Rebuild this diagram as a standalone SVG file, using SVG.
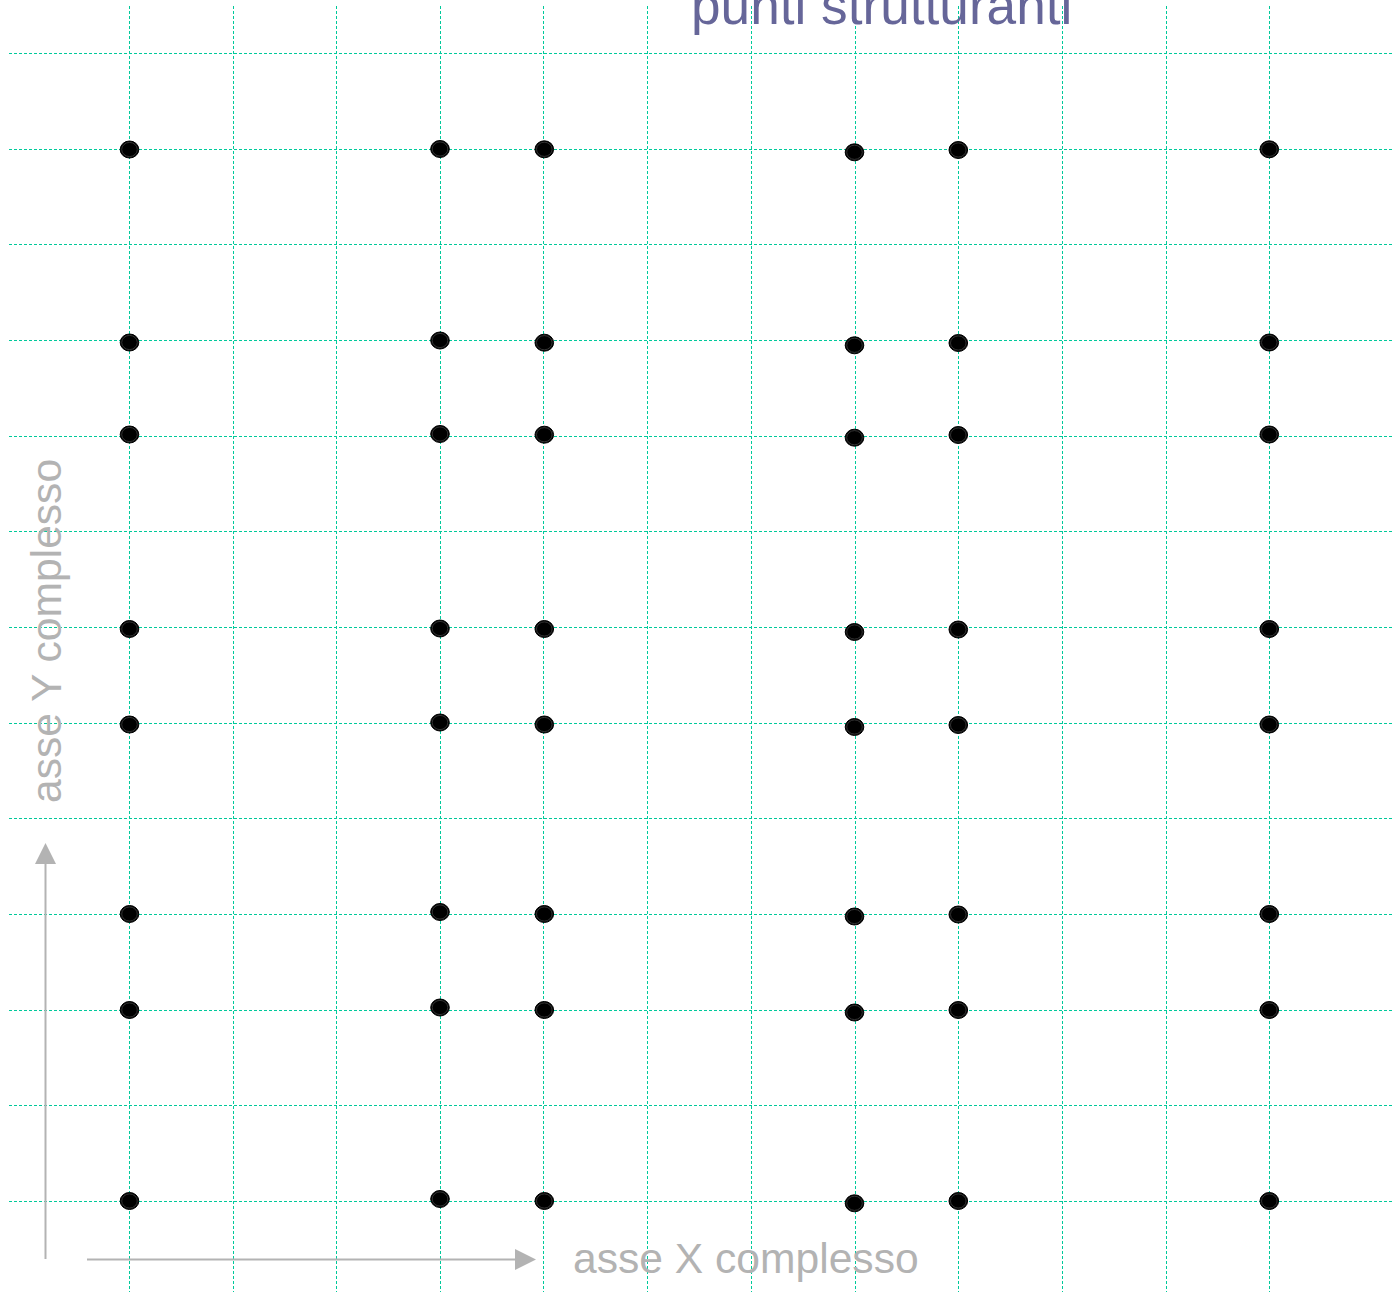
<svg xmlns="http://www.w3.org/2000/svg" xmlns:xlink="http://www.w3.org/1999/xlink" width="1392" height="1292" viewBox="0 0 1392 1292">
<style>
.grid line{stroke:#00C99A;stroke-width:1;stroke-dasharray:3 2;fill:none}
.axis{stroke:#B3B3B3;stroke-width:2;fill:none}
.ahead{fill:#B3B3B3}
.lbl{font-family:"Liberation Sans",Arial,sans-serif;font-size:42.6px;fill:#B3B3B3}
.title{font-family:"Liberation Sans",Arial,sans-serif;font-size:53.2px;fill:#666699}
</style>
<defs>
<g id="dot">
<ellipse cx="0" cy="0" rx="9.3" ry="8.5" fill="#000" stroke="#000" stroke-width="1"/>
<ellipse cx="0" cy="0" rx="7.8" ry="7.1" fill="none" stroke="#4a4a4a" stroke-width="0.7"/>
</g>
</defs>
<rect width="1392" height="1292" fill="#fff"/>
<g id="grid" class="grid">
<line x1="129.5" y1="6" x2="129.5" y2="1292"/>
<line x1="233.5" y1="6" x2="233.5" y2="1292"/>
<line x1="336.5" y1="6" x2="336.5" y2="1292"/>
<line x1="440.5" y1="6" x2="440.5" y2="1292"/>
<line x1="543.5" y1="6" x2="543.5" y2="1292"/>
<line x1="647.5" y1="6" x2="647.5" y2="1292"/>
<line x1="751.5" y1="6" x2="751.5" y2="1292"/>
<line x1="855.5" y1="6" x2="855.5" y2="1292"/>
<line x1="958.5" y1="6" x2="958.5" y2="1292"/>
<line x1="1062.5" y1="6" x2="1062.5" y2="1292"/>
<line x1="1166.5" y1="6" x2="1166.5" y2="1292"/>
<line x1="1269.5" y1="6" x2="1269.5" y2="1292"/>
<line x1="9" y1="53.5" x2="1392" y2="53.5"/>
<line x1="9" y1="149.5" x2="1392" y2="149.5"/>
<line x1="9" y1="244.5" x2="1392" y2="244.5"/>
<line x1="9" y1="340.5" x2="1392" y2="340.5"/>
<line x1="9" y1="436.5" x2="1392" y2="436.5"/>
<line x1="9" y1="531.5" x2="1392" y2="531.5"/>
<line x1="9" y1="627.5" x2="1392" y2="627.5"/>
<line x1="9" y1="723.5" x2="1392" y2="723.5"/>
<line x1="9" y1="818.5" x2="1392" y2="818.5"/>
<line x1="9" y1="914.5" x2="1392" y2="914.5"/>
<line x1="9" y1="1010.5" x2="1392" y2="1010.5"/>
<line x1="9" y1="1105.5" x2="1392" y2="1105.5"/>
<line x1="9" y1="1201.5" x2="1392" y2="1201.5"/>
</g>
<text id="title" class="title" x="691" y="24">punti strutturanti</text>
<g id="connectors">
<line class="axis" x1="45.5" y1="1259" x2="45.5" y2="862"/>
<polygon class="ahead" points="45.5,843 35,864 56,864"/>
<line class="axis" x1="87" y1="1259.5" x2="516" y2="1259.5"/>
<polygon class="ahead" points="536,1259.5 515,1249 515,1270"/>
</g>
<text id="label-x" class="lbl" x="573" y="1273">asse X complesso</text>
<text id="label-y" class="lbl" transform="translate(61,803) rotate(-90)">asse Y complesso</text>
<g id="col1">
<use xlink:href="#dot" x="129.5" y="149.5"/>
<use xlink:href="#dot" x="129.5" y="342.5"/>
<use xlink:href="#dot" x="129.5" y="434.5"/>
<use xlink:href="#dot" x="129.5" y="629"/>
<use xlink:href="#dot" x="129.5" y="724.5"/>
<use xlink:href="#dot" x="129.5" y="914"/>
<use xlink:href="#dot" x="129.5" y="1010"/>
<use xlink:href="#dot" x="129.5" y="1201"/>
</g>
<g id="col2">
<use xlink:href="#dot" x="440" y="149"/>
<use xlink:href="#dot" x="440" y="340.5"/>
<use xlink:href="#dot" x="440" y="434"/>
<use xlink:href="#dot" x="440" y="628.5"/>
<use xlink:href="#dot" x="440" y="722.5"/>
<use xlink:href="#dot" x="440" y="912"/>
<use xlink:href="#dot" x="440" y="1007.5"/>
<use xlink:href="#dot" x="440" y="1199"/>
</g>
<g id="col3">
<use xlink:href="#dot" x="544.3" y="149.3"/>
<use xlink:href="#dot" x="544.3" y="342.7"/>
<use xlink:href="#dot" x="544.3" y="434.7"/>
<use xlink:href="#dot" x="544.3" y="629"/>
<use xlink:href="#dot" x="544.3" y="724.5"/>
<use xlink:href="#dot" x="544.3" y="914"/>
<use xlink:href="#dot" x="544.3" y="1010"/>
<use xlink:href="#dot" x="544.3" y="1201"/>
</g>
<g id="col4">
<use xlink:href="#dot" x="854.5" y="152.3"/>
<use xlink:href="#dot" x="854.5" y="345.3"/>
<use xlink:href="#dot" x="854.5" y="437.7"/>
<use xlink:href="#dot" x="854.5" y="632"/>
<use xlink:href="#dot" x="854.5" y="727"/>
<use xlink:href="#dot" x="854.5" y="916.5"/>
<use xlink:href="#dot" x="854.5" y="1012.5"/>
<use xlink:href="#dot" x="854.5" y="1203.3"/>
</g>
<g id="col5">
<use xlink:href="#dot" x="958.3" y="150"/>
<use xlink:href="#dot" x="958.3" y="343"/>
<use xlink:href="#dot" x="958.3" y="435"/>
<use xlink:href="#dot" x="958.3" y="629.5"/>
<use xlink:href="#dot" x="958.3" y="725"/>
<use xlink:href="#dot" x="958.3" y="914.5"/>
<use xlink:href="#dot" x="958.3" y="1010"/>
<use xlink:href="#dot" x="958.3" y="1201"/>
</g>
<g id="col6">
<use xlink:href="#dot" x="1269.3" y="149.3"/>
<use xlink:href="#dot" x="1269.3" y="342.5"/>
<use xlink:href="#dot" x="1269.3" y="434.5"/>
<use xlink:href="#dot" x="1269.3" y="629"/>
<use xlink:href="#dot" x="1269.3" y="724.5"/>
<use xlink:href="#dot" x="1269.3" y="914"/>
<use xlink:href="#dot" x="1269.3" y="1010"/>
<use xlink:href="#dot" x="1269.3" y="1201"/>
</g>
</svg>
